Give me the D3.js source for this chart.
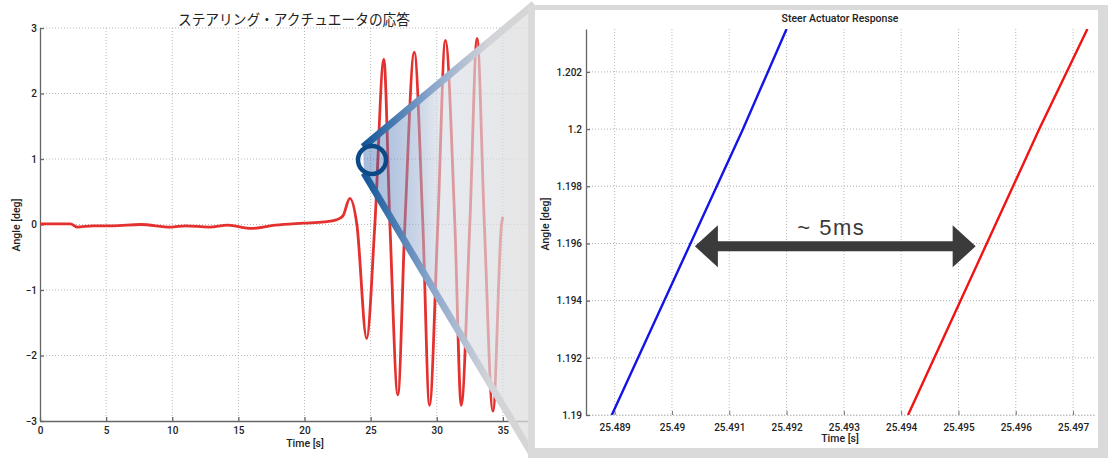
<!DOCTYPE html>
<html>
<head>
<meta charset="utf-8">
<script src="https://cdn.jsdelivr.net/npm/d3@7"></script>
<style>
  body { margin: 0; background: #fff; }
  svg { display: block; }
  .tick text { font-family: Roboto, "Liberation Sans", Arial, sans-serif; font-weight: 500; fill: #222; }
</style>
</head>
<body>
<div id="chart"></div>
<script>
// full run, angle vs time
var runTime  = [0, 2.3, 2.8, 4.0, 5.5, 7.6, 9.9, 11.0, 12.8, 14.2, 16.0, 17.8, 19.9, 21.5, 22.4, 22.9,
                23.43, 23.96, 24.7, 25.32, 26.0, 26.46, 27.06, 27.59, 28.3, 28.95, 29.45, 30.08,
                30.65, 31.37, 31.85, 32.5, 33.05, 33.6, 34.25, 34.9, 35.0];
var runAngle = [0.01, 0.01, -0.04, -0.02, -0.02, 0.0, -0.04, -0.02, -0.04, -0.01, -0.06, -0.01, 0.02, 0.04, 0.07, 0.13,
                0.40, 0.0, -1.74, 0.0, 2.52, 0.0, -2.60, 0.0, 2.63, 0.0, -2.76, 0.0,
                2.81, 0.0, -2.76, 0.0, 2.84, 0.0, -2.85, 0.0, 0.12];
var runXTicks = [0, 5, 10, 15, 20, 25, 30, 35];
var runYTicks = [-3, -2, -1, 0, 1, 2, 3];

// zoomed window around 25.49 s
var zoomXTicks = [25.489, 25.490, 25.491, 25.492, 25.493, 25.494, 25.495, 25.496, 25.497];
var zoomYTicks = [1.190, 1.192, 1.194, 1.196, 1.198, 1.200, 1.202];
var cmdTime  = [25.48895, 25.49124, 25.49200];   // blue
var cmdAngle = [1.1900, 1.2000, 1.2035];
var actTime  = [25.49412, 25.49641, 25.49725];   // red
var actAngle = [1.1900, 1.2000, 1.2035];
// "~ 5ms" arrow, in data units of the zoom plot
var lagFrom = 25.4904, lagTo = 25.4953, lagAt = 1.1959;

var W = 1108, H = 458;
var svg = d3.select('#chart').append('svg')
    .attr('width', W).attr('height', H);
var defs = svg.append('defs');

var tickFont = 'Roboto, "Liberation Sans", Arial, sans-serif';

// ---------- left plot ----------
var x = d3.scaleLinear().domain([0, 40]).range([40, 569]);
var y = d3.scaleLinear().domain([-3, 3]).range([421, 28]);

var left = svg.append('g');

// grid
left.append('g').selectAll('line')
    .data(runXTicks.filter(function (d) { return d > 0; }).concat([40]))
    .enter().append('line')
    .attr('x1', function (d) { return x(d); }).attr('x2', function (d) { return x(d); })
    .attr('y1', y(3)).attr('y2', y(-3))
    .attr('stroke', '#b8b8b8').attr('stroke-dasharray', '1,2');
left.append('g').selectAll('line')
    .data(runYTicks.filter(function (d) { return d > -3; }))
    .enter().append('line')
    .attr('x1', x(0)).attr('x2', x(40))
    .attr('y1', function (d) { return y(d); }).attr('y2', function (d) { return y(d); })
    .attr('stroke', '#b8b8b8').attr('stroke-dasharray', '1,2');

// axes
var xAxis = d3.axisBottom(x).tickValues(runXTicks).tickFormat(d3.format('d'))
    .tickSize(-4).tickSizeOuter(0).tickPadding(6);
var yAxis = d3.axisLeft(y).tickValues(runYTicks).tickFormat(d3.format('d'))
    .tickSize(-4).tickSizeOuter(0).tickPadding(3);
var gx = left.append('g').attr('transform', 'translate(0,' + y(-3) + ')').call(xAxis);
var gy = left.append('g').attr('transform', 'translate(' + x(0) + ',0)').call(yAxis);
[gx, gy].forEach(function (g) {
    g.selectAll('path, line').attr('stroke', '#666').attr('stroke-width', 1.3);
    g.selectAll('text').attr('font-size', 10);
});

left.append('text')
    .attr('x', 305).attr('y', 447)
    .attr('text-anchor', 'middle')
    .attr('font-family', tickFont).attr('font-weight', 500).attr('font-size', 10.5).attr('fill', '#222')
    .text('Time [s]');
left.append('text')
    .attr('transform', 'translate(20,225) rotate(-90)')
    .attr('text-anchor', 'middle')
    .attr('font-family', tickFont).attr('font-weight', 500).attr('font-size', 10.5).attr('fill', '#222')
    .text('Angle [deg]');
left.append('text')
    .attr('x', 294).attr('y', 25)
    .attr('text-anchor', 'middle')
    .attr('font-family', '"Noto Sans CJK JP", sans-serif').attr('font-size', 14.5).attr('fill', '#222')
    .attr('textLength', 232).attr('lengthAdjust', 'spacingAndGlyphs')
    .text('ステアリング・アクチュエータの応答');

var runLine = d3.line()
    .x(function (d, i) { return x(runTime[i]); })
    .y(function (d) { return y(d); })
    .curve(d3.curveMonotoneX);
left.append('path')
    .datum(runAngle)
    .attr('d', runLine)
    .attr('fill', 'none')
    .attr('stroke', '#e4302e')
    .attr('stroke-width', 2.8)
    .attr('stroke-linejoin', 'round');

// ---------- zoom cone ----------
var coneFill = defs.append('linearGradient').attr('id', 'coneFill')
    .attr('gradientUnits', 'userSpaceOnUse')
    .attr('x1', 368).attr('y1', 0).attr('x2', 530).attr('y2', 0);
coneFill.append('stop').attr('offset', 0).attr('stop-color', 'rgb(40,90,170)').attr('stop-opacity', 0.4);
coneFill.append('stop').attr('offset', 0.45).attr('stop-color', 'rgb(214,219,228)').attr('stop-opacity', 0.6);
coneFill.append('stop').attr('offset', 1).attr('stop-color', 'rgb(222,222,222)').attr('stop-opacity', 0.75);

var coneEdge = defs.append('linearGradient').attr('id', 'coneEdge')
    .attr('gradientUnits', 'userSpaceOnUse')
    .attr('x1', 365).attr('y1', 0).attr('x2', 530).attr('y2', 0);
coneEdge.append('stop').attr('offset', 0).attr('stop-color', '#15589b');
coneEdge.append('stop').attr('offset', 0.4).attr('stop-color', '#8aa6cc');
coneEdge.append('stop').attr('offset', 0.75).attr('stop-color', '#d2d4d8');
coneEdge.append('stop').attr('offset', 1).attr('stop-color', '#d6d6d6');

var cone = svg.append('g');
var cA1 = [363, 147], cA2 = [534, 4], cB1 = [364, 173], cB2 = [532, 454];
cone.append('path')
    .attr('d', 'M' + cA1 + 'L' + cA2 + 'L' + cB2 + 'L' + cB1 + 'Z')
    .attr('fill', 'url(#coneFill)');
[[cA1, cA2], [cB1, cB2]].forEach(function (s) {
    cone.append('line')
        .attr('x1', s[0][0]).attr('y1', s[0][1]).attr('x2', s[1][0]).attr('y2', s[1][1])
        .attr('stroke', 'url(#coneEdge)').attr('stroke-width', 7);
});
cone.append('circle')
    .attr('cx', 372).attr('cy', 160).attr('r', 14)
    .attr('fill', 'none').attr('stroke', '#0b4a86').attr('stroke-width', 4.5);

// ---------- right panel ----------
svg.append('rect').attr('x', 528).attr('y', 5).attr('width', 580).attr('height', 453).attr('fill', '#dadada');
svg.append('rect').attr('x', 535).attr('y', 10).attr('width', 563).attr('height', 438).attr('fill', '#fff');

var xz = d3.scaleLinear().domain([25.4885, 25.4974]).range([586, 1096]);
var yz = d3.scaleLinear().domain([1.19, 1.2035]).range([415, 29]);

var right = svg.append('g');

right.append('g').selectAll('line')
    .data(zoomXTicks)
    .enter().append('line')
    .attr('x1', function (d) { return xz(d); }).attr('x2', function (d) { return xz(d); })
    .attr('y1', yz(1.2035)).attr('y2', yz(1.19))
    .attr('stroke', '#b8b8b8').attr('stroke-dasharray', '1,2');
right.append('g').selectAll('line')
    .data(zoomYTicks)
    .enter().append('line')
    .attr('x1', xz.range()[0]).attr('x2', xz.range()[1])
    .attr('y1', function (d) { return yz(d); }).attr('y2', function (d) { return yz(d); })
    .attr('stroke', '#b0b0b0').attr('stroke-dasharray', '1,2');

var xzAxis = d3.axisBottom(xz).tickValues(zoomXTicks).tickFormat(d3.format('')).tickSize(-4).tickSizeOuter(0).tickPadding(8.5);
var yzAxis = d3.axisLeft(yz).tickValues(zoomYTicks).tickFormat(d3.format('')).tickSize(-4).tickSizeOuter(0).tickPadding(4);
var gxz = right.append('g').attr('transform', 'translate(0,' + yz(1.19) + ')').call(xzAxis);
var gyz = right.append('g').attr('transform', 'translate(' + xz.range()[0] + ',0)').call(yzAxis);
gxz.select('.domain').attr('stroke', '#b0b0b0').attr('stroke-dasharray', '1,2');
gxz.selectAll('.tick line').attr('stroke', '#777');
gyz.selectAll('path, line').attr('stroke', '#666').attr('stroke-width', 1.3);
[gxz, gyz].forEach(function (g) { g.selectAll('text').attr('font-size', 10); });

right.append('text')
    .attr('x', 840).attr('y', 22)
    .attr('text-anchor', 'middle')
    .attr('font-family', tickFont).attr('font-weight', 500).attr('font-size', 10.5).attr('fill', '#222')
    .text('Steer Actuator Response');
right.append('text')
    .attr('x', 840).attr('y', 442)
    .attr('text-anchor', 'middle')
    .attr('font-family', tickFont).attr('font-weight', 500).attr('font-size', 10.5).attr('fill', '#222')
    .text('Time [s]');
right.append('text')
    .attr('transform', 'translate(549,224) rotate(-90)')
    .attr('text-anchor', 'middle')
    .attr('font-family', tickFont).attr('font-weight', 500).attr('font-size', 10.5).attr('fill', '#222')
    .text('Angle [deg]');

defs.append('clipPath').attr('id', 'zoomClip').append('rect')
    .attr('x', 586).attr('y', 29).attr('width', 510).attr('height', 386);

var zoomLine = function (times) {
    return d3.line()
        .x(function (d, i) { return xz(times[i]); })
        .y(function (d) { return yz(d); });
};
var lines = right.append('g').attr('clip-path', 'url(#zoomClip)');
lines.append('path').datum(cmdAngle).attr('d', zoomLine(cmdTime))
    .attr('fill', 'none').attr('stroke', '#1414e6').attr('stroke-width', 2.4);
lines.append('path').datum(actAngle).attr('d', zoomLine(actTime))
    .attr('fill', 'none').attr('stroke', '#f01414').attr('stroke-width', 2.4);

// lag arrow
var ax0 = xz(lagFrom), ax1 = xz(lagTo), ay = yz(lagAt);
var head = 23, hh = 21, sh = 5;
right.append('path')
    .attr('d', 'M' + ax0 + ',' + ay +
        'L' + (ax0 + head) + ',' + (ay - hh) + 'L' + (ax0 + head) + ',' + (ay - sh) +
        'L' + (ax1 - head) + ',' + (ay - sh) + 'L' + (ax1 - head) + ',' + (ay - hh) +
        'L' + ax1 + ',' + ay +
        'L' + (ax1 - head) + ',' + (ay + hh) + 'L' + (ax1 - head) + ',' + (ay + sh) +
        'L' + (ax0 + head) + ',' + (ay + sh) + 'L' + (ax0 + head) + ',' + (ay + hh) + 'Z')
    .attr('fill', '#3b3b3b');
right.append('text')
    .attr('x', (ax0 + ax1) / 2 - 4).attr('y', ay - 11)
    .attr('text-anchor', 'middle')
    .attr('font-family', '"Liberation Sans", Arial, sans-serif').attr('font-size', 22)
    .attr('letter-spacing', 1.5).attr('fill', '#3b3b3b')
    .text('~ 5ms');
</script>
</body>
</html>
